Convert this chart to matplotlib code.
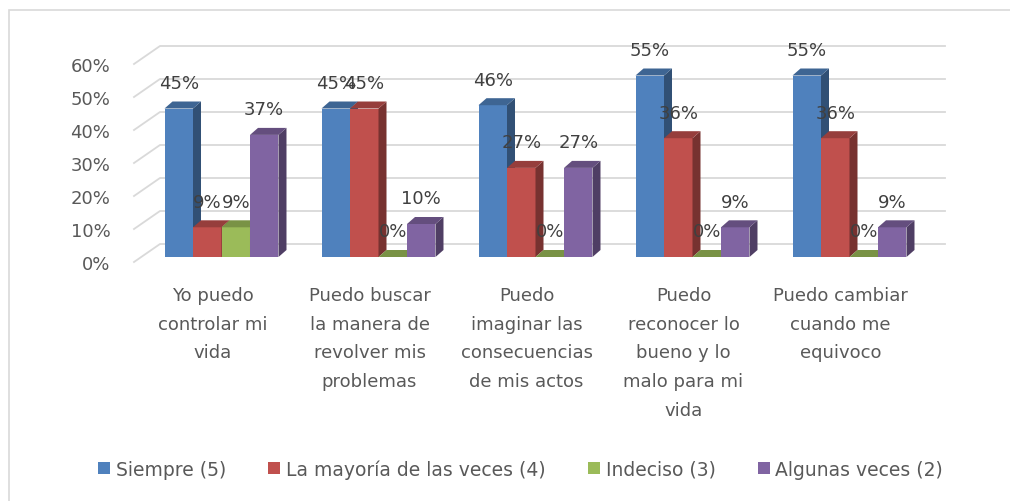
import numpy as np
import matplotlib
matplotlib.use("Agg")
import matplotlib.pyplot as plt
from matplotlib.patches import Polygon, Rectangle
from matplotlib.transforms import ScaledTranslation, IdentityTransform
from matplotlib.colors import to_rgb

categories = ["Yo puedo\ncontrolar mi\nvida",
              "Puedo buscar\nla manera de\nrevolver mis\nproblemas",
              "Puedo\nimaginar las\nconsecuencias\nde mis actos",
              "Puedo\nreconocer lo\nbueno y lo\nmalo para mi\nvida",
              "Puedo cambiar\ncuando me\nequivoco"]
series_names = ["Siempre (5)", "La mayoría de las veces (4)", "Indeciso (3)", "Algunas veces (2)"]
siempre = [0.45, 0.45, 0.46, 0.55, 0.55]
mayoria = [0.09, 0.45, 0.27, 0.36, 0.36]
indeciso = [0.09, 0.00, 0.00, 0.00, 0.00]
algunas = [0.37, 0.10, 0.27, 0.09, 0.09]
yticks = [0, 0.1, 0.2, 0.3, 0.4, 0.5, 0.6]
ytick_labels = ["0%", "10%", "20%", "30%", "40%", "50%", "60%"]

colors = ["#4F81BD", "#C0504D", "#9BBB59", "#8064A2"]
series = [siempre, mayoria, indeciso, algunas]

W, H = 1010, 502
fig = plt.figure(figsize=(W / 100, H / 100), dpi=100)
fig.patch.set_facecolor("white")

# outer frame
fig.add_artist(Rectangle((9 / W, -0.1), 1.2, (H - 11) / H + 0.1, transform=fig.transFigure,
                         fill=False, edgecolor="#D9D9D9", linewidth=1.2))

left_px, right_px, top_px, bot_px = 134, 919, 65, 263
ax = fig.add_axes([left_px / W, 1 - bot_px / H, (right_px - left_px) / W, (bot_px - top_px) / H])
ax.set_xlim(-0.5, 4.5)
ax.set_ylim(0, 0.6)
for s in ax.spines.values():
    s.set_visible(False)
ax.set_facecolor("none")

txt_color = "#595959"
ax.set_yticks(yticks, ytick_labels)
ax.tick_params(axis="y", length=0, pad=17, labelsize=13, labelcolor=txt_color)
ax.set_xticks(range(len(categories)), categories)
ax.tick_params(axis="x", length=0, pad=17, labelsize=13, labelcolor=txt_color)
for lab in ax.get_xticklabels():
    lab.set_linespacing(1.78)

fig.canvas.draw()

# back wall offset (pixels)
BDX, BDY = 26, 18
grid_c = "#D9D9D9"
for v in yticks:
    p0 = ax.transData.transform((-0.5, v))
    p1 = p0 + np.array([BDX, BDY])
    p2 = ax.transData.transform((4.5, v)) + np.array([BDX, BDY])
    ax.add_line(plt.Line2D([p0[0], p1[0], p2[0]], [p0[1], p1[1], p2[1]],
                           transform=IdentityTransform(), color=grid_c, lw=1.3,
                           zorder=1, clip_on=False))

# bars
bw = 0.1815
bar_trans = ax.transData + ScaledTranslation(9 / 100, 5 / 100, fig.dpi_scale_trans)
DX, DY = 8, 7
x = np.arange(len(categories))
handles = []
for i, (vals, c) in enumerate(zip(series, colors)):
    xs = x + (i - 1.5) * bw
    bars = ax.bar(xs, vals, width=bw, color=c, transform=bar_trans, zorder=3 + i,
                  clip_on=False, label=series_names[i], linewidth=0)
    handles.append(bars)
    rgb = np.array(to_rgb(c))
    side_c = rgb * 0.62
    top_c = rgb * 0.78
    for r, v in zip(bars, vals):
        x0, x1 = r.get_x(), r.get_x() + r.get_width()
        br = bar_trans.transform((x1, 0))
        tl = bar_trans.transform((x0, v))
        tr = bar_trans.transform((x1, v))
        d = np.array([DX, DY])
        side = Polygon([br, tr, tr + d, br + d], closed=True, facecolor=side_c,
                       edgecolor="none", transform=IdentityTransform(), zorder=3 + i, clip_on=False)
        top = Polygon([tl, tr, tr + d, tl + d], closed=True, facecolor=top_c,
                      edgecolor="none", transform=IdentityTransform(), zorder=3 + i, clip_on=False)
        ax.add_patch(side)
        ax.add_patch(top)
        ax.annotate(f"{round(v * 100):d}%", xy=((x0 + x1) / 2, v), xycoords=bar_trans,
                    xytext=(0, 18.5), textcoords="offset points", ha="center", va="center",
                    fontsize=13, color="#404040", zorder=10)

leg = fig.legend(handles=handles, labels=series_names, loc="center", ncol=4,
                 bbox_to_anchor=(520.5 / W, 1 - 470 / H), frameon=False, fontsize=13.5,
                 handlelength=0.65, handleheight=0.65, handletextpad=0.3,
                 columnspacing=2.25, labelcolor=txt_color)

fig.savefig("out.png", dpi=100, facecolor="white")
